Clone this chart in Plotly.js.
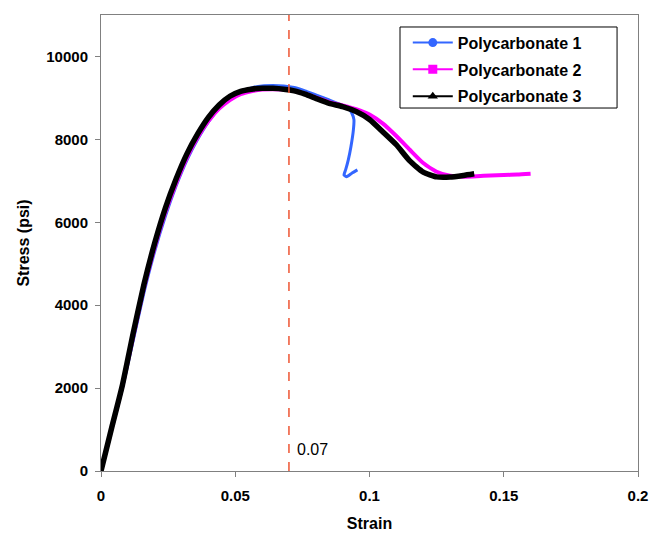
<!DOCTYPE html>
<html><head><meta charset="utf-8">
<script src="https://cdn.plot.ly/plotly-3.0.1.min.js"></script>
<style>html,body{margin:0;padding:0;background:#fff}#chart{width:652px;height:533px}</style>
</head><body><div id="chart"></div>
<script>
const seriesNames = ["Polycarbonate 1", "Polycarbonate 2", "Polycarbonate 3"];
const pc1Strain = [0,0.004,0.008,0.012,0.016,0.02,0.024,0.028,0.032,0.036,0.04,0.044,0.048,0.052,0.056,0.06,0.064,0.068,0.072,0.076,0.08,0.085,0.09,0.0925,0.0934,0.0942,0.094,0.0931,0.0921,0.0911,0.0905,0.0915,0.0934,0.0955];
const pc1Stress = [0,1000,2000,3150,4300,5300,6150,6880,7500,8000,8420,8750,8990,9150,9240,9290,9300,9290,9250,9170,9070,8950,8820,8720,8637,8475,8230,7830,7506,7264,7143,7100,7184,7264];
const pc2Strain = [0,0.004,0.008,0.012,0.016,0.02,0.024,0.028,0.032,0.036,0.04,0.044,0.048,0.052,0.056,0.06,0.064,0.068,0.072,0.076,0.08,0.085,0.09,0.095,0.1,0.105,0.11,0.115,0.12,0.125,0.13,0.135,0.14,0.145,0.15,0.155,0.16];
const pc2Stress = [0,1040,2060,3250,4420,5400,6250,6950,7560,8050,8440,8740,8950,9090,9160,9200,9210,9200,9170,9100,9010,8900,8820,8730,8600,8380,8080,7750,7430,7220,7120,7100,7110,7130,7140,7150,7170];
const pc3Strain = [0,0.004,0.008,0.012,0.016,0.02,0.024,0.028,0.032,0.036,0.04,0.044,0.048,0.052,0.056,0.06,0.064,0.068,0.072,0.076,0.08,0.085,0.09,0.095,0.1,0.105,0.11,0.115,0.12,0.125,0.13,0.135,0.139];
const pc3Stress = [0,1050,2080,3330,4500,5500,6350,7050,7650,8130,8530,8830,9040,9160,9210,9235,9230,9210,9170,9090,8990,8870,8790,8670,8480,8180,7870,7480,7210,7095,7090,7130,7170];
const xTicks = [0, 0.05, 0.1, 0.15, 0.2];
const yTicks = [0, 2000, 4000, 6000, 8000, 10000];
const markerLine = 0.07;

const colors = ["#3366ff", "#ff00ff", "#000000"];
const widths = [3, 4, 5.5];
const symbols = ["circle", "square", "triangle-up"];
const xs = [pc1Strain, pc2Strain, pc3Strain];
const ys = [pc1Stress, pc2Stress, pc3Stress];

const traces = [];
for (let i = 0; i < 3; i++) {
  traces.push({x: xs[i], y: ys[i], mode: "lines", type: "scatter", showlegend: false,
    line: {color: colors[i], width: widths[i], shape: "spline", smoothing: 0.5}, hoverinfo: "skip"});
}
for (let i = 0; i < 3; i++) {
  traces.push({x: [null], y: [null], mode: "lines+markers", type: "scatter", name: seriesNames[i],
    legendgroup: "g" + i,
    line: {color: colors[i], width: 2}, marker: {color: colors[i], size: 9, symbol: symbols[i]}});
}

const font = {family: "Liberation Sans, Arial, sans-serif", color: "#000"};
const layout = {
  width: 652, height: 533,
  margin: {l: 101, r: 14, t: 15, b: 62},
  paper_bgcolor: "#fff", plot_bgcolor: "#fff",
  showlegend: true,
  legend: {x: 0.5713, y: 0.9766, xanchor: "left", yanchor: "top", bgcolor: "rgba(0,0,0,0)",
    borderwidth: 0, font: {...font, size: 16, weight: "bold"},
    traceorder: "grouped", tracegroupgap: 3, itemwidth: 40},
  xaxis: {range: [0, 0.2], tickvals: xTicks, ticktext: xTicks.map(String),
    ticks: "outside", ticklen: 5, tickcolor: "#808080", showline: true, linecolor: "#808080",
    linewidth: 1, mirror: true, showgrid: false, zeroline: false, ticklabelstandoff: 6,
    tickfont: {...font, size: 15, weight: "bold"},
    title: {text: "Strain", font: {...font, size: 16, weight: "bold"}, standoff: 14}},
  yaxis: {range: [0, 11000], tickvals: yTicks, ticktext: yTicks.map(String),
    ticks: "outside", ticklen: 5, tickcolor: "#808080", showline: true, linecolor: "#808080",
    linewidth: 1, mirror: true, showgrid: false, zeroline: false, ticklabelstandoff: 4,
    tickfont: {...font, size: 15, weight: "bold"},
    title: {text: "Stress (psi)", font: {...font, size: 16, weight: "bold"}, standoff: 12}},
  shapes: [
    {type: "line", xref: "x", yref: "paper", x0: markerLine, x1: markerLine, y0: 0, y1: 1,
      line: {color: "#ee5533", width: 1.5, dash: "dash"}},
    {type: "rect", xref: "paper", yref: "paper", x0: 0.5568, x1: 0.961, y0: 0.796, y1: 0.9737,
      line: {color: "#000", width: 1}, fillcolor: "#fff", layer: "above"}
  ],
  annotations: [{x: markerLine, y: 520, xref: "x", yref: "y", text: String(markerLine),
    showarrow: false, xanchor: "left", yanchor: "middle", xshift: 6,
    font: {...font, size: 16}}]
};
Plotly.newPlot("chart", traces, layout, {displayModeBar: false, staticPlot: true});
</script></body></html>
